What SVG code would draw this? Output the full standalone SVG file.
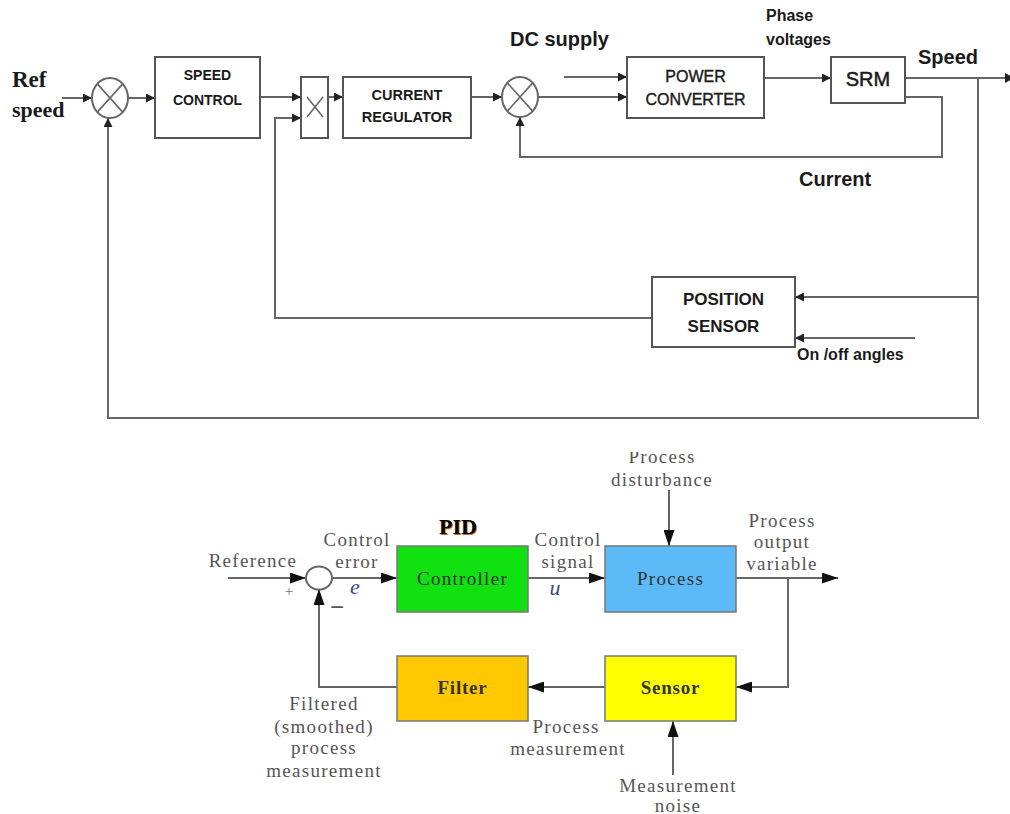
<svg xmlns="http://www.w3.org/2000/svg" width="1010" height="814" viewBox="0 0 1010 814">
<style>
.tb{fill:#fff;stroke:#555;stroke-width:2}
.tl{fill:none;stroke:#666;stroke-width:2}
.tt{font-family:"Liberation Sans",Arial,sans-serif;font-weight:bold;fill:#1a1a1a}
.bl{fill:none;stroke:#666;stroke-width:2}
.bb{stroke:#777;stroke-width:1.5}
.bt{font-family:"Liberation Serif","Times New Roman",serif;font-size:19px;letter-spacing:1.3px;fill:#555;text-anchor:middle}
.bx{font-family:"Liberation Serif","Times New Roman",serif;font-size:19px;letter-spacing:1.3px;fill:#333;text-anchor:middle}
</style>
<defs>
<marker id="aT" markerUnits="userSpaceOnUse" markerWidth="9" markerHeight="9" refX="9" refY="4.5" orient="auto"><path d="M0,0 L9,4.5 L0,9 z" fill="#222"/></marker>
<marker id="aB" markerUnits="userSpaceOnUse" markerWidth="16" markerHeight="11" refX="16" refY="5.5" orient="auto"><path d="M0,0 L16,5.5 L0,11 z" fill="#111"/></marker>
<clipPath id="clipB"><rect x="0" y="452" width="1010" height="362"/></clipPath>
</defs>
<rect width="1010" height="814" fill="#fff"/>

<!-- TOP DIAGRAM -->
<g id="top-connectors">
<path class="tl" d="M62,98 H92" marker-end="url(#aT)"/>
<path class="tl" d="M128,98 H155" marker-end="url(#aT)"/>
<path class="tl" d="M260,97 H301" marker-end="url(#aT)"/>
<path class="tl" d="M328,97 H343" marker-end="url(#aT)"/>
<path class="tl" d="M471,97 H502" marker-end="url(#aT)"/>
<path class="tl" d="M538,97 H627" marker-end="url(#aT)"/>
<path class="tl" d="M564,77 H627" marker-end="url(#aT)"/>
<path class="tl" d="M764,78 H831" marker-end="url(#aT)"/>
<path class="tl" d="M905,78 H1010"/>
<path d="M1005,73 L1014,78 L1005,83 z" fill="#222"/>
<path class="tl" d="M905,97 H942 V157 H520 V117" marker-end="url(#aT)"/>
<path class="tl" d="M978,78 V418 H108 V118" marker-end="url(#aT)"/>
<path class="tl" d="M978,297 H795" marker-end="url(#aT)"/>
<path class="tl" d="M915,338 H795" marker-end="url(#aT)"/>
<path class="tl" d="M652,318 H275 V118 H301" marker-end="url(#aT)"/>
</g>

<g id="sum1">
<ellipse cx="110" cy="98" rx="18" ry="20" fill="#fff" stroke="#666" stroke-width="2"/>
<path d="M97.3,83.9 L122.7,112.1 M122.7,83.9 L97.3,112.1" stroke="#666" stroke-width="1.6" fill="none"/>
</g>
<g id="speed-control">
<rect class="tb" x="155" y="57" width="105" height="81"/>
<text class="tt" x="207.5" y="80" font-size="14" text-anchor="middle">SPEED</text>
<text class="tt" x="207.5" y="105" font-size="14" text-anchor="middle">CONTROL</text>
</g>
<g id="multiplier">
<rect class="tb" x="301" y="77" width="27" height="61"/>
<path d="M307,97 L323,117 M323,97 L307,117" stroke="#666" stroke-width="1.6" fill="none"/>
</g>
<g id="current-regulator">
<rect class="tb" x="343" y="77" width="128" height="61"/>
<text class="tt" x="407" y="100" font-size="14.5" text-anchor="middle">CURRENT</text>
<text class="tt" x="407" y="122" font-size="14.5" text-anchor="middle">REGULATOR</text>
</g>
<g id="sum2">
<ellipse cx="520" cy="97" rx="18" ry="20" fill="#fff" stroke="#666" stroke-width="2"/>
<path d="M507.3,82.9 L532.7,111.1 M532.7,82.9 L507.3,111.1" stroke="#666" stroke-width="1.6" fill="none"/>
</g>
<g id="power-converter">
<rect class="tb" x="627" y="57" width="137" height="61"/>
<text class="tt" x="695.5" y="82" font-size="16" font-weight="normal" text-anchor="middle" style="font-weight:normal" stroke="#1a1a1a" stroke-width="0.4">POWER</text>
<text class="tt" x="695.5" y="105" font-size="16" text-anchor="middle" style="font-weight:normal" stroke="#1a1a1a" stroke-width="0.4">CONVERTER</text>
</g>
<g id="srm">
<rect class="tb" x="831" y="57" width="74" height="46"/>
<text class="tt" x="868" y="86" font-size="20" text-anchor="middle" style="font-weight:normal" stroke="#1a1a1a" stroke-width="0.5">SRM</text>
</g>
<g id="position-sensor">
<rect class="tb" x="652" y="277" width="143" height="70"/>
<text class="tt" x="723.5" y="305" font-size="17" text-anchor="middle">POSITION</text>
<text class="tt" x="723.5" y="332" font-size="17" text-anchor="middle">SENSOR</text>
</g>
<g id="top-labels">
<text x="12" y="87" font-family="'Liberation Serif','Times New Roman',serif" font-weight="bold" font-size="23" fill="#1a1a1a">Ref</text>
<text x="12" y="117" font-family="'Liberation Serif','Times New Roman',serif" font-weight="bold" font-size="22" fill="#1a1a1a">speed</text>
<text class="tt" x="510" y="46" font-size="20">DC supply</text>
<text class="tt" x="766" y="21" font-size="16">Phase</text>
<text class="tt" x="766" y="45" font-size="16">voltages</text>
<text class="tt" x="918" y="64" font-size="20">Speed</text>
<text class="tt" x="799" y="186" font-size="20">Current</text>
<text class="tt" x="797" y="360" font-size="16">On /off angles</text>
</g>

<!-- BOTTOM DIAGRAM -->
<g clip-path="url(#clipB)">
<g id="bottom-connectors">
<path class="bl" d="M228,578 H306" marker-end="url(#aB)"/>
<path class="bl" d="M332,578 H397" marker-end="url(#aB)"/>
<path class="bl" d="M528,578 H605" marker-end="url(#aB)"/>
<path class="bl" d="M669,490 V546" marker-end="url(#aB)"/>
<path class="bl" d="M736,578 H838" marker-end="url(#aB)"/>
<path class="bl" d="M788,578 V687 H736" marker-end="url(#aB)"/>
<path class="bl" d="M605,687 H528" marker-end="url(#aB)"/>
<path class="bl" d="M397,687 H319 V589" marker-end="url(#aB)"/>
<path class="bl" d="M673,775 V721" marker-end="url(#aB)"/>
</g>
<g id="sum3">
<ellipse cx="319" cy="578" rx="13" ry="11.5" fill="#fff" stroke="#666" stroke-width="2"/>
</g>
<g id="controller">
<rect class="bb" x="397" y="546" width="131" height="66" fill="#11e011"/>
<text class="bx" x="462.5" y="585">Controller</text>
</g>
<g id="process">
<rect class="bb" x="605" y="546" width="131" height="66" fill="#5cbaf6"/>
<text class="bx" x="670.5" y="585">Process</text>
</g>
<g id="sensor">
<rect class="bb" x="605" y="656" width="131" height="65" fill="#ffff00"/>
<text class="bx" x="670.5" y="694" font-weight="bold" style="letter-spacing:0.8px">Sensor</text>
</g>
<g id="filter">
<rect class="bb" x="397" y="656" width="131" height="65" fill="#ffc800"/>
<text class="bx" x="462.5" y="694" font-weight="bold" style="letter-spacing:0.8px">Filter</text>
</g>
<g id="bottom-labels">
<text x="459" y="535" font-family="'Liberation Serif','Times New Roman',serif" font-weight="bold" font-size="22" text-anchor="middle" fill="#c87000">PID</text>
<text x="458" y="534" font-family="'Liberation Serif','Times New Roman',serif" font-weight="bold" font-size="22" text-anchor="middle" fill="#000">PID</text>
<text class="bt" x="253" y="567">Reference</text>
<text class="bt" x="357" y="546">Control</text>
<text class="bt" x="357" y="568">error</text>
<text x="355" y="594" font-family="'Liberation Serif','Times New Roman',serif" font-style="italic" font-size="22" fill="#3a4a88" text-anchor="middle">e</text>
<text x="289" y="596" font-family="'Liberation Serif','Times New Roman',serif" font-size="15" fill="#777" text-anchor="middle">+</text>
<text x="337" y="615" font-family="'Liberation Sans',Arial,sans-serif" font-size="24" fill="#555" text-anchor="middle">−</text>
<text class="bt" x="568" y="546">Control</text>
<text class="bt" x="568" y="568">signal</text>
<text x="555" y="595" font-family="'Liberation Serif','Times New Roman',serif" font-style="italic" font-size="22" fill="#3a4a88" text-anchor="middle">u</text>
<text class="bt" x="662" y="463">Process</text>
<text class="bt" x="662" y="486">disturbance</text>
<text class="bt" x="782" y="527">Process</text>
<text class="bt" x="782" y="548">output</text>
<text class="bt" x="782" y="570">variable</text>
<text class="bt" x="324" y="710">Filtered</text>
<text class="bt" x="324" y="733">(smoothed)</text>
<text class="bt" x="324" y="754">process</text>
<text class="bt" x="324" y="777">measurement</text>
<text class="bt" x="566" y="733">Process</text>
<text class="bt" x="568" y="755">measurement</text>
<text class="bt" x="678" y="792">Measurement</text>
<text class="bt" x="678" y="812">noise</text>
</g>
</g>
</svg>
